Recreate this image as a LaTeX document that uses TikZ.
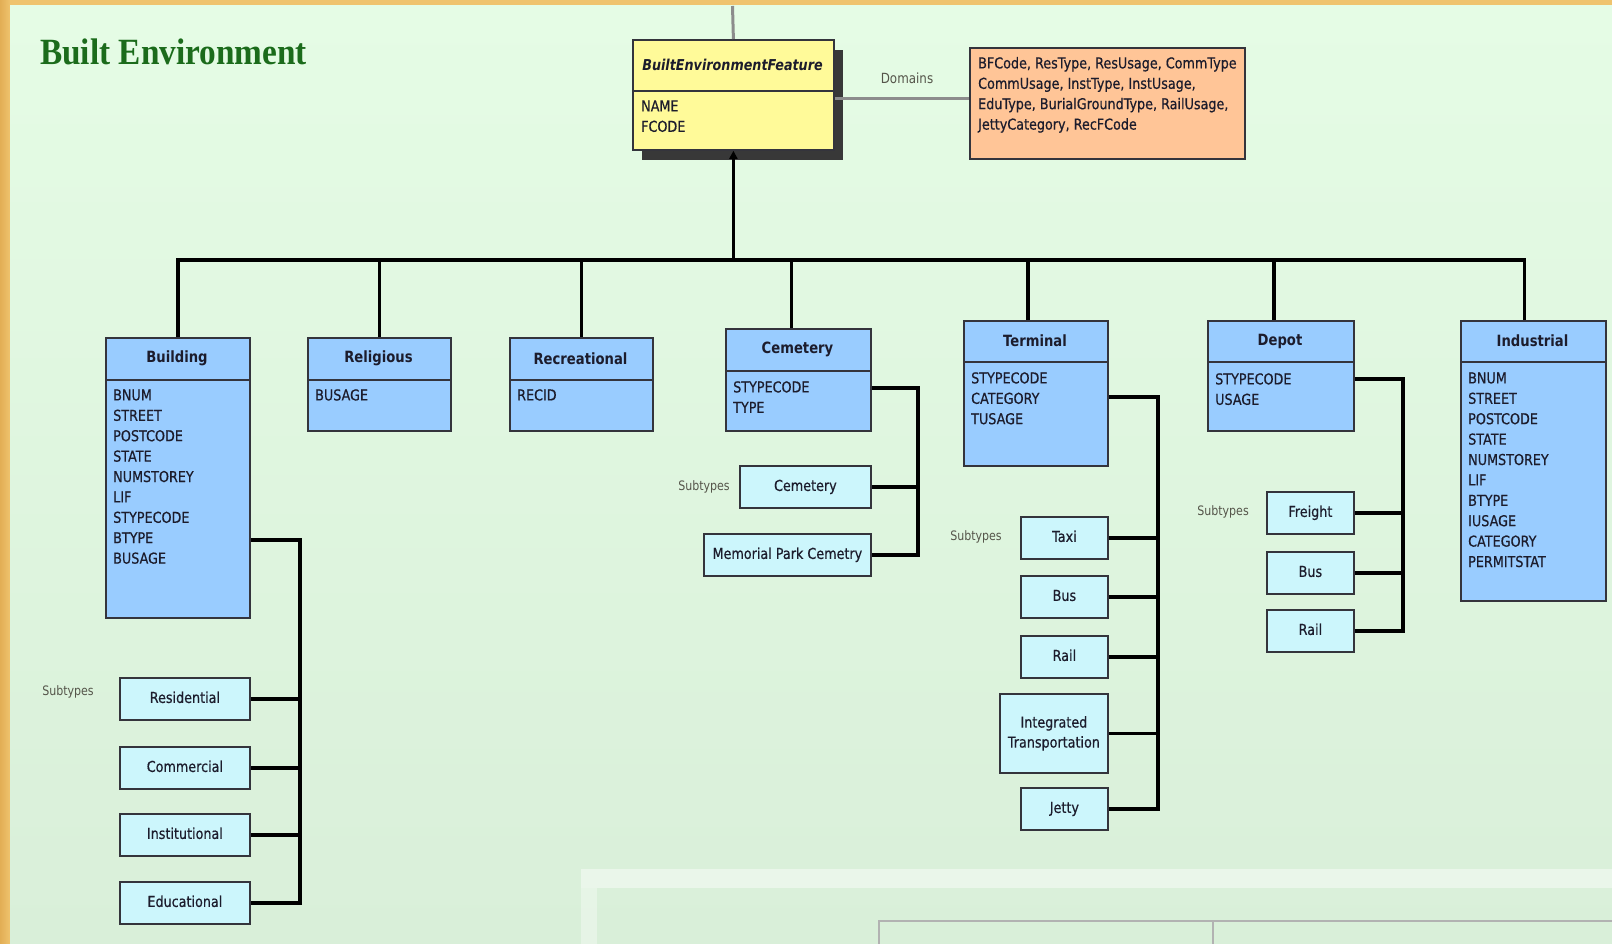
\documentclass[tikz,border=0pt]{standalone}
\usepackage{fontspec}
\setmainfont{DejaVu Sans}[FakeStretch=0.85, UprightFeatures={FakeBold=0.5}]
\newfontfamily\lightfont{DejaVu Sans}[FakeStretch=0.85]
\newfontfamily\titlefont{Liberation Serif}[FakeStretch=0.9]
\usetikzlibrary{arrows.meta,shadows}

\definecolor{wood}{HTML}{EFC36E}
\definecolor{wooddark}{HTML}{E2AE55}
\definecolor{panel}{HTML}{E5FCE5}
\definecolor{panelbot}{HTML}{D9EFD9}
\definecolor{clsblue}{HTML}{99CCFF}
\definecolor{subcyan}{HTML}{CCF6FC}
\definecolor{featyel}{HTML}{FFFA99}
\definecolor{dompeach}{HTML}{FFC597}
\definecolor{edge}{HTML}{34343C}
\definecolor{ink}{HTML}{1C1C2C}
\definecolor{lblgray}{HTML}{55554A}
\definecolor{titlegreen}{HTML}{1B6B1B}

\tikzset{
  cls/.style={draw=edge, fill=clsblue, line width=1.8pt, inner sep=0pt, anchor=north west},
  subbox/.style={draw=edge, fill=subcyan, line width=1.8pt, inner sep=0pt, anchor=north west,
    font=\fontsize{15}{20}\selectfont, text=ink, align=center},
  oneline/.style={text height=10.9pt, text depth=2.9pt},
  hdr/.style={font=\bfseries\fontsize{15.5}{18}\selectfont, text=ink, inner sep=0pt},
  attr/.style={font=\fontsize{15}{18}\selectfont, text=ink, inner sep=0pt, anchor=base west},
  lbl/.style={font=\lightfont\fontsize{13}{16}\selectfont, text=lblgray, inner sep=0pt},
  divider/.style={draw=edge, line width=2pt},
  conn/.style={draw=black, line width=3.2pt, line join=miter},
  grayconn/.style={draw=black!45, line width=3pt},
}

% one attribute per line, 20.4pt apart, starting at the given vertical centre
\newcommand\attrcol[4]{%
  \foreach \t [count=\i] in {#4} {\node[attr] (#1-\i) at (#2, {#3+5.4+20.4*(\i-1)}) {\t};}}

\begin{document}
\begin{tikzpicture}[x=1pt,y=-1pt]
\useasboundingbox (0,0) rectangle (1612,944);

% slide background and panel
\fill[wood] (0,0) rectangle (1612,944);
\shade[left color=wooddark, right color=wood] (0,0) rectangle (10,944);
\shade[top color=panel, bottom color=panelbot] (10,6) rectangle (1612,944);

% faded frame at the bottom of the panel
\fill[white, opacity=0.45] (581,869) rectangle (1612,888);
\fill[white, opacity=0.35] (581,888) rectangle (597,944);
\draw[black!30, line width=2.5pt] (879,944) -- (879,921) -- (1612,921);
\draw[black!30, line width=2pt] (1213,921) -- (1213,944);

% title
\node[anchor=base west, inner sep=0pt, text=titlegreen,
      font=\titlefont\bfseries\fontsize{37}{40}\selectfont] (title) at (40,65) {Built Environment};

% root feature class and its domains
\node[draw=edge, fill=featyel, line width=1.8pt, inner sep=0pt, anchor=north west,
      minimum width=201pt, minimum height=110pt,
      drop shadow={shadow xshift=9pt, shadow yshift=-10pt, fill=black!78, opacity=1}]
      (bef) at (632,39) {};
\draw[divider] ([yshift=-52pt]bef.north west) -- ([yshift=-52pt]bef.north east);
\node[hdr, font=\bfseries\itshape\fontsize{15}{18}\selectfont] (bef-h) at (732.5,65) {BuiltEnvironmentFeature};
\attrcol{bef}{641}{106}{NAME,FCODE}

\node[draw=edge, fill=dompeach, line width=1.8pt, inner sep=0pt, anchor=north west,
      minimum width=275pt, minimum height=111pt] (dom) at (969,47) {};
\attrcol{dom}{978}{63}{{BFCode, ResType, ResUsage, CommType},{CommUsage, InstType, InstUsage,},{EduType, BurialGroundType, RailUsage,},{JettyCategory, RecFCode}}
\node[lbl, font=\lightfont\fontsize{14}{16}\selectfont] (domlbl) at (907,78) {Domains};

\coordinate (paneltop) at (732.5,6);
\coordinate (dline) at (0,98.5);
\draw[grayconn] (bef.north) -- (paneltop);
\draw[grayconn] (bef.east |- dline) -- (dom.west |- dline);

% subclasses
\node[cls, minimum width=144pt, minimum height=280pt] (building) at (105,337) {};
\node[cls, minimum width=143pt, minimum height=93pt] (religious) at (307,337) {};
\node[cls, minimum width=143pt, minimum height=93pt] (recreational) at (509,337) {};
\node[cls, minimum width=145pt, minimum height=102pt] (cemetery) at (725,328) {};
\node[cls, minimum width=144pt, minimum height=145pt] (terminal) at (963,320) {};
\node[cls, minimum width=146pt, minimum height=110pt] (depot) at (1207,320) {};
\node[cls, minimum width=145pt, minimum height=280pt] (industrial) at (1460,320) {};

\foreach \n/\h in {building/43,religious/43,recreational/43,cemetery/43,terminal/42,depot/42,industrial/42}
  \draw[divider] ([yshift=-\h pt]\n.north west) -- ([yshift=-\h pt]\n.north east);

\node[hdr] (building-h) at (177,358.5) {Building};
\node[hdr] (religious-h) at (378.5,358.5) {Religious};
\node[hdr] (recreational-h) at (580.5,358.5) {Recreational};
\node[hdr] (cemetery-h) at (797.5,349.5) {Cemetery};
\node[hdr] (terminal-h) at (1035,341) {Terminal};
\node[hdr] (depot-h) at (1280,341) {Depot};
\node[hdr] (industrial-h) at (1532.5,341) {Industrial};

\attrcol{building}{113}{395}{BNUM,STREET,POSTCODE,STATE,NUMSTOREY,LIF,STYPECODE,BTYPE,BUSAGE}
\attrcol{religious}{315}{395}{BUSAGE}
\attrcol{recreational}{517}{395}{RECID}
\attrcol{cemetery}{733}{387}{STYPECODE,TYPE}
\attrcol{terminal}{971}{378}{STYPECODE,CATEGORY,TUSAGE}
\attrcol{depot}{1215}{379}{STYPECODE,USAGE}
\attrcol{industrial}{1468}{378}{BNUM,STREET,POSTCODE,STATE,NUMSTOREY,LIF,BTYPE,IUSAGE,CATEGORY,PERMITSTAT}

% generalisation tree
\coordinate (bus) at (0,260);
\coordinate (cemtop) at ([xshift=-7pt]cemetery.north);
\coordinate (termtop) at ([xshift=-8pt]terminal.north);
\coordinate (deptop) at ([xshift=-7pt]depot.north);
\coordinate (indtop) at ([xshift=-9pt]industrial.north);
\draw[conn] (building.north) -- (building.north |- bus) -- (indtop |- bus) -- (indtop);
\draw[conn] (religious.north) -- (religious.north |- bus);
\draw[conn] (recreational.north) -- (recreational.north |- bus);
\draw[conn] (cemtop) -- (cemtop |- bus);
\draw[conn] (termtop) -- (termtop |- bus);
\draw[conn] (deptop) -- (deptop |- bus);
\draw[conn, -{Triangle[length=8pt,width=8pt]}] (bef.south |- bus) -- (bef.south);

% subtypes
\node[subbox, oneline, minimum width=130pt, minimum height=42pt] (residential) at (119,677) {Residential};
\node[subbox, oneline, minimum width=130pt, minimum height=42pt] (commercial) at (119,746) {Commercial};
\node[subbox, oneline, minimum width=130pt, minimum height=42pt] (institutional) at (119,813) {Institutional};
\node[subbox, oneline, minimum width=130pt, minimum height=42pt] (educational) at (119,881) {Educational};
\node[lbl] (bsub) at (68,692) {Subtypes};

\node[subbox, oneline, minimum width=131pt, minimum height=42pt] (cemsub) at (739,465) {Cemetery};
\node[subbox, oneline, minimum width=167pt, minimum height=42pt] (memorial) at (703,533) {Memorial Park Cemetry};
\node[lbl] (csub) at (704,487) {Subtypes};

\node[subbox, oneline, minimum width=87pt, minimum height=42pt] (taxi) at (1020,516) {Taxi};
\node[subbox, oneline, minimum width=87pt, minimum height=42pt] (tbus) at (1020,575) {Bus};
\node[subbox, oneline, minimum width=87pt, minimum height=42pt] (trail) at (1020,635) {Rail};
\node[subbox, minimum width=108pt, minimum height=79pt] (integrated) at (999,693) {Integrated\\Transportation};
\node[subbox, oneline, minimum width=87pt, minimum height=42pt] (jetty) at (1020,787) {Jetty};
\node[lbl] (tsub) at (976,537) {Subtypes};

\node[subbox, oneline, minimum width=87pt, minimum height=42pt] (freight) at (1266,491) {Freight};
\node[subbox, oneline, minimum width=87pt, minimum height=42pt] (dbus) at (1266,551) {Bus};
\node[subbox, oneline, minimum width=87pt, minimum height=42pt] (drail) at (1266,609) {Rail};
\node[lbl] (dsub) at (1223,512) {Subtypes};

\coordinate (bj) at (300,540);
\draw[conn] (building.east |- bj) -- (bj) -- (bj |- educational.east) -- (educational.east);
\foreach \n in {residential,commercial,institutional} \draw[conn] (\n.east) -- (\n.east -| bj);

\coordinate (cj) at (918,388);
\draw[conn] (cemetery.east |- cj) -- (cj) -- (cj |- memorial.east) -- (memorial.east);
\draw[conn] (cemsub.east) -- (cemsub.east -| cj);

\coordinate (tj) at (1158,397);
\draw[conn] (terminal.east |- tj) -- (tj) -- (tj |- jetty.east) -- (jetty.east);
\foreach \n in {taxi,tbus,trail,integrated} \draw[conn] (\n.east) -- (\n.east -| tj);

\coordinate (dj) at (1403,379);
\draw[conn] (depot.east |- dj) -- (dj) -- (dj |- drail.east) -- (drail.east);
\foreach \n in {freight,dbus} \draw[conn] (\n.east) -- (\n.east -| dj);
\end{tikzpicture}
\end{document}
